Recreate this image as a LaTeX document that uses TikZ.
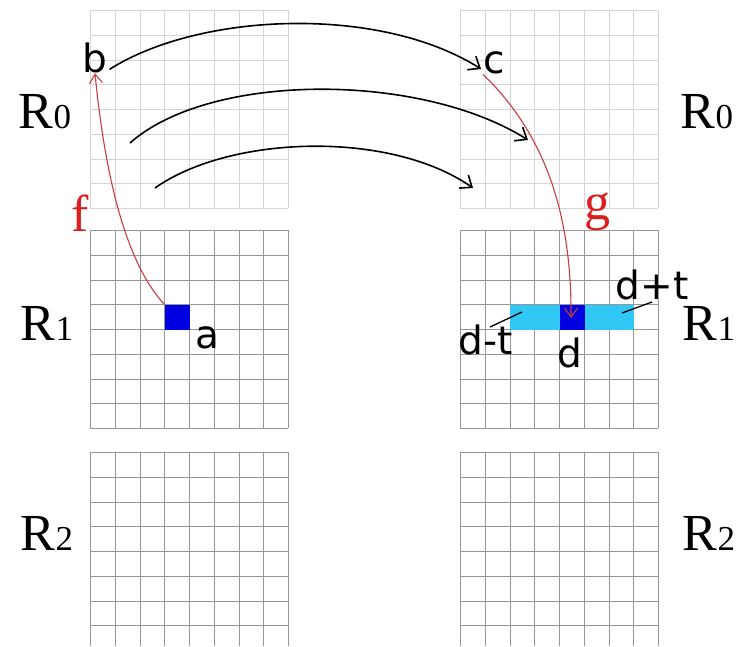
\documentclass[tikz,border=0pt]{standalone}
\usepackage{fontspec}
\setmainfont{Liberation Serif}
\newfontfamily\lblfont{DejaVu Sans}
\usetikzlibrary{arrows.meta}
\definecolor{gridA}{RGB}{150,150,150}
\definecolor{gridB}{RGB}{212,212,212}
\definecolor{cellcyan}{RGB}{50,200,245}
\definecolor{cellblue}{RGB}{0,0,225}
\definecolor{redtxt}{RGB}{220,30,30}
\definecolor{redline}{RGB}{205,60,60}
\tikzset{
  gline/.style={draw=gridA,line width=1pt},
  glight/.style={draw=gridB,line width=1pt},
  rlabel/.style={inner sep=0pt,font=\fontsize{52}{52}\selectfont},
  letter/.style={inner sep=0pt,font=\lblfont\fontsize{39}{39}\selectfont},
  redlabel/.style={inner sep=0pt,text=redtxt,font=\fontsize{52}{52}\selectfont},
  bigarc/.style={line width=1.6pt,-{Straight Barb[length=10pt,width=16pt]}},
  redarc/.style={draw=redline,line width=1.1pt,-{Straight Barb[length=9pt,width=13pt]}},
  tick/.style={line width=1.3pt}
}
\newcommand{\Rlab}[1]{R{\fontsize{35}{35}\selectfont #1}}
\begin{document}
\begin{tikzpicture}[x=1pt,y=-1pt]
\useasboundingbox (0,0) rectangle (737,646);
% R0 grids (light)
\foreach \i in {0,...,8}{
  \pgfmathsetmacro{\lx}{round(90+\i*24.75)+0.5}
  \pgfmathsetmacro{\rx}{round(460+\i*24.75)+0.5}
  \pgfmathsetmacro{\ty}{round(10+\i*24.75)+0.5}
  \draw[glight] (\lx,10) -- (\lx,208);
  \draw[glight] (90,\ty) -- (288,\ty);
  \draw[glight] (\rx,10) -- (\rx,208);
  \draw[glight] (460,\ty) -- (658,\ty);
}
% R1 grids
\foreach \i in {0,...,8}{
  \pgfmathsetmacro{\lx}{round(90+\i*24.75)+0.5}
  \pgfmathsetmacro{\rx}{round(460+\i*24.75)+0.5}
  \pgfmathsetmacro{\ty}{round(230+\i*24.75)+0.5}
  \draw[gline] (\lx,230) -- (\lx,428);
  \draw[gline] (90,\ty) -- (288,\ty);
  \draw[gline] (\rx,230) -- (\rx,428);
  \draw[gline] (460,\ty) -- (658,\ty);
}
% R2 grids
\foreach \i in {0,...,8}{
  \pgfmathsetmacro{\lx}{round(90+\i*24.75)+0.5}
  \pgfmathsetmacro{\rx}{round(460+\i*24.75)+0.5}
  \draw[gline] (\lx,452) -- (\lx,646);
  \draw[gline] (\rx,452) -- (\rx,646);
}
\foreach \i in {0,...,7}{
  \pgfmathsetmacro{\ty}{round(452+\i*24.75)+0.5}
  \draw[gline] (90,\ty) -- (288,\ty);
  \draw[gline] (460,\ty) -- (658,\ty);
}
% cells
\fill[cellblue] (164.5,304.5) rectangle (189.5,329.5);
\fill[cellcyan] (509.5,304.5) rectangle (633.5,329.5);
\fill[cellblue] (559.5,304.5) rectangle (584.5,329.5);
% level labels
\node[rlabel] (r0l) at (45,112) {\Rlab{0}};
\node[rlabel] (r1l) at (47,323) {\Rlab{1}};
\node[rlabel] (r2l) at (47,533) {\Rlab{2}};
\node[rlabel] (r0r) at (707,112) {\Rlab{0}};
\node[rlabel] (r1r) at (709,323) {\Rlab{1}};
\node[rlabel] (r2r) at (709,533) {\Rlab{2}};
% letters
\node[letter] (b) at (95,58) {b};
\node[letter] (c) at (494,63) {c};
\node[letter] (a) at (207,338) {a};
\node[letter] (d) at (570,353) {d};
\node[letter] (dmt) at (486,340) {d-t};
\node[letter] (dpt) at (652,285) {d+t};
\node[redlabel] (f) at (80,213) {f};
\node[redlabel] (g) at (597,212) {g};
% anchor coordinates
\coordinate (acorner) at (164.5,304.5);
\coordinate (dcenter) at (571,318);
\coordinate (s2) at (130,143);
\coordinate (e2) at (528,140);
\coordinate (s3) at (155,188);
\coordinate (e3) at (473,188);
\coordinate (dmtA) at (490,327);
\coordinate (dmtB) at (522,312);
\coordinate (dptA) at (622,313);
\coordinate (dptB) at (652,302);
% black arcs
\draw[bigarc] ([xshift=2pt,yshift=4pt]b.south east) .. controls (200,12) and (380,5) .. ([xshift=-2pt,yshift=-6pt]c.west);
\draw[bigarc] (s2) .. controls (210,72) and (420,72) .. (e2);
\draw[bigarc] (s3) .. controls (230,135) and (390,130) .. (e3);
% red arcs
\draw[redarc] (acorner) .. controls (128,265) and (106,185) .. (b.south);
\draw[redarc] (c.south west) .. controls (530,120) and (572,190) .. (dcenter);
% ticks
\draw[tick] (dmtA) -- (dmtB);
\draw[tick] (dptA) -- (dptB);
\end{tikzpicture}
\end{document}
